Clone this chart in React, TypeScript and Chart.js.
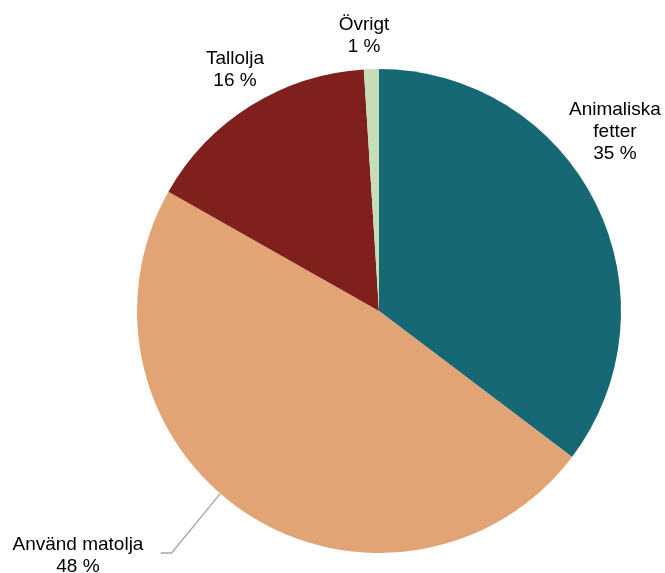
import React, { useEffect, useRef } from "react";
import { Chart, registerables } from "chart.js";

Chart.register(...registerables);

const categories = ["Animaliska fetter", "Använd matolja", "Tallolja", "Övrigt"];
const values = [35.3, 47.9, 15.8, 1.0];
const valueLabels = ["35 %", "48 %", "16 %", "1 %"];
const labelLines = [["Animaliska", "fetter", "35 %"], ["Använd matolja", "48 %"], ["Tallolja", "16 %"], ["Övrigt", "1 %"]];
const colors = ["#156874", "#E2A475", "#7F201D", "#C5DDB8"];
// label centre offsets relative to pie centre, in units of radius
const labelOffsets = [[0.975, -0.74], [-1.244, 1.012], [-0.595, -0.996], [-0.062, -1.136]];

const labelPlugin = {
  id: "pieLabels",
  afterDraw(chart: any) {
    const ctx = chart.ctx;
    const meta = chart.getDatasetMeta(0);
    const arc0 = meta.data[0];
    const cx = arc0.x, cy = arc0.y, r = arc0.outerRadius;
    ctx.save();
    ctx.font = "19px 'Liberation Sans', Arial, sans-serif";
    ctx.fillStyle = "#000";
    ctx.textAlign = "center";
    ctx.textBaseline = "middle";
    const lh = 22;
    labelLines.forEach((lines, i) => {
      const [ox, oy] = labelOffsets[i];
      const x = cx + ox * r;
      const y = cy + oy * r;
      const top = y - ((lines.length - 1) * lh) / 2;
      lines.forEach((t, j) => ctx.fillText(t, x, top + j * lh));
    });
    // leader line for Använd matolja
    const a = (221 * Math.PI) / 180;
    const px = cx + Math.sin(a) * r;
    const py = cy - Math.cos(a) * r;
    ctx.strokeStyle = "#A6A6A6";
    ctx.lineWidth = 1.3;
    ctx.beginPath();
    ctx.moveTo(px, py);
    ctx.lineTo(cx - 0.857 * r, cy + 1.0 * r);
    ctx.lineTo(cx - 0.902 * r, cy + 1.0 * r);
    ctx.stroke();
    ctx.restore();
  },
};

export default function App() {
  const ref = useRef<HTMLCanvasElement>(null);
  useEffect(() => {
    const chart = new Chart(ref.current!, {
      type: "pie",
      data: {
        labels: categories,
        datasets: [{ data: values, backgroundColor: colors, borderWidth: 0 }],
      },
      options: {
        animation: false,
        responsive: false,
        layout: { padding: { left: 137, right: 44, top: 69, bottom: 20 } },
        plugins: { legend: { display: false }, tooltip: { enabled: false } },
      },
      plugins: [labelPlugin],
    });
    return () => chart.destroy();
  }, []);
  return (
    <div style={{ position: "fixed", left: 0, top: 0, width: 665, height: 573, background: "#fff" }}>
      <canvas ref={ref} width={665} height={573} />
    </div>
  );
}
